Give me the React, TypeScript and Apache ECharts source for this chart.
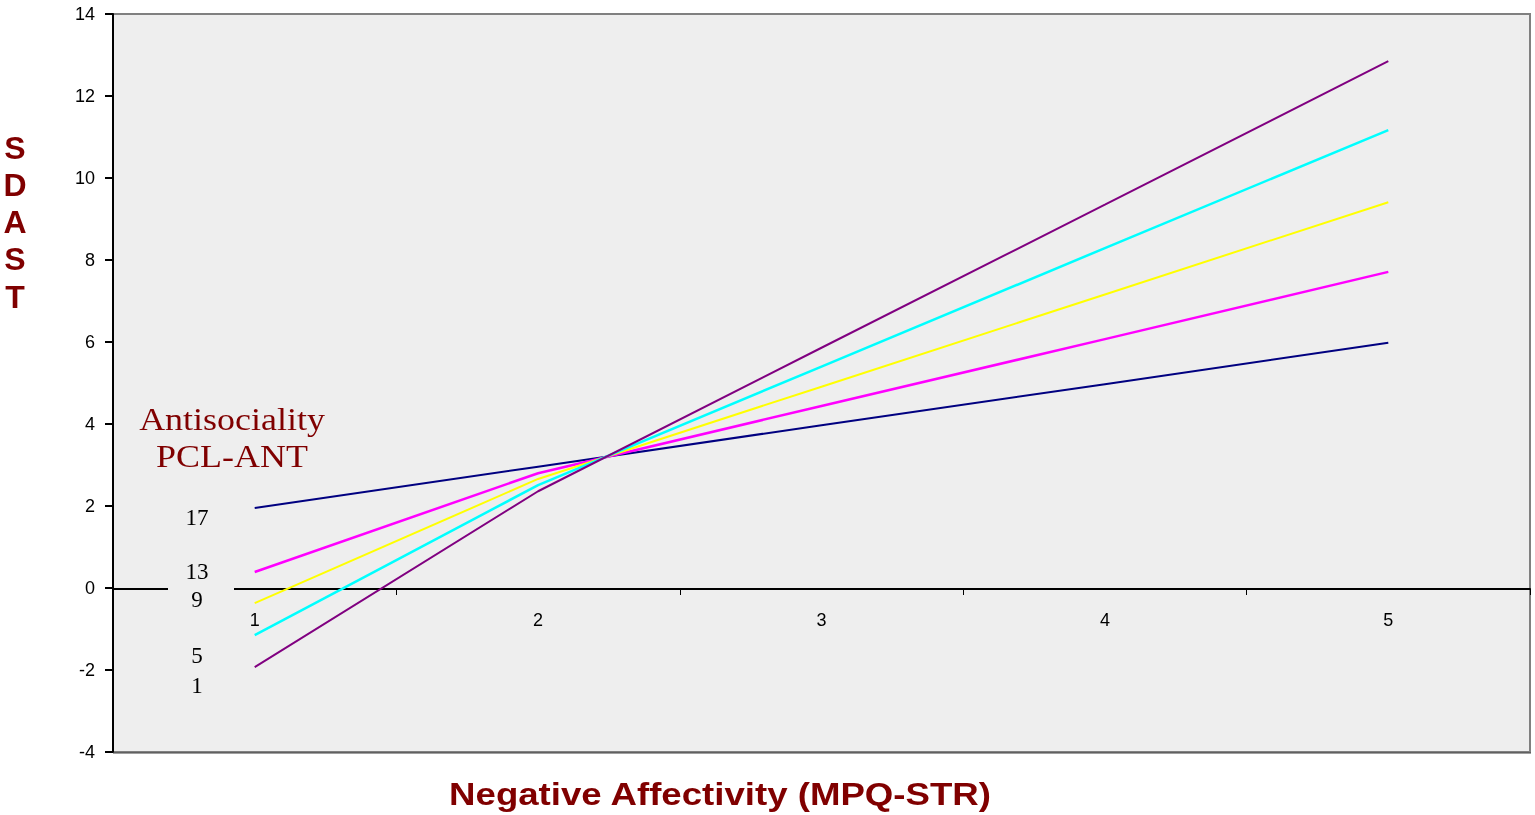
import React, { useEffect, useRef } from "react";
import * as echarts from "echarts";

const categories = ["1", "2", "3", "4", "5"];
const pcl17 = [1.95, 2.96, 3.97, 4.97, 5.98];
const pcl13 = [0.39, 2.8, 4.44, 6.07, 7.71];
const pcl9 = [-0.37, 2.66, 4.91, 7.16, 9.41];
const pcl5 = [-1.15, 2.51, 5.4, 8.29, 11.17];
const pcl1 = [-1.93, 2.36, 5.86, 9.35, 12.85];
const legendLabels = ["17", "13", "9", "5", "1"];
const yTitleLetters = ["S", "D", "A", "S", "T"];

export default function App() {
  const ref = useRef<HTMLDivElement>(null);
  useEffect(() => {
    if (!ref.current) return;
    const chart = echarts.init(ref.current, null, { renderer: "svg" });
    const dark = "#800000";
    const legendY = [517, 571, 599, 655, 685];
    const yLetterY = [148, 185, 222, 259, 297];
    chart.setOption({
      animation: false,
      grid: {
        left: 113,
        top: 14,
        right: 5,
        bottom: 63,
        show: true,
        backgroundColor: "#EEEEEE",
        borderColor: "#808080",
        borderWidth: 2,
      },
      xAxis: {
        type: "category",
        data: categories,
        boundaryGap: true,
        offset: -163,
        axisLine: { onZero: false, lineStyle: { color: "#000", width: 2 } },
        axisTick: { show: true, alignWithLabel: false, length: 6, lineStyle: { color: "#000", width: 1 } },
        axisLabel: { color: "#000", fontSize: 18, fontFamily: "Liberation Sans, Arial", margin: 22 },
        splitLine: { show: false },
        z: 1,
      },
      yAxis: {
        type: "value",
        min: -4,
        max: 14,
        interval: 2,
        axisLine: { show: true, lineStyle: { color: "#000", width: 2 } },
        axisTick: { show: true, length: 8, lineStyle: { color: "#000", width: 2 } },
        axisLabel: { color: "#000", fontSize: 18, fontFamily: "Liberation Sans, Arial", margin: 18 },
        splitLine: { show: false },
      },
      series: [
        { name: "17", type: "line", data: pcl17, symbol: "none", lineStyle: { color: "#000080", width: 2 }, z: 2 },
        { name: "13", type: "line", data: pcl13, symbol: "none", lineStyle: { color: "#FF00FF", width: 2.5 }, z: 3 },
        { name: "9", type: "line", data: pcl9, symbol: "none", lineStyle: { color: "#FFFF00", width: 2 }, z: 4 },
        { name: "5", type: "line", data: pcl5, symbol: "none", lineStyle: { color: "#00FFFF", width: 2.5 }, z: 5 },
        { name: "1", type: "line", data: pcl1, symbol: "none", lineStyle: { color: "#800080", width: 2 }, z: 6 },
      ],
      graphic: [
        { type: "rect", shape: { x: 168, y: 585, width: 66, height: 8 }, style: { fill: "#EEEEEE" }, z: 50 },
        { type: "line", shape: { x1: 113, y1: 753, x2: 1531, y2: 753 }, style: { stroke: "#404040", lineWidth: 1 }, z: 50 },
        {
          type: "text", x: 232, y: 419, scaleX: 1.16, z: 60,
          style: { text: "Antisociality", fontSize: 31, fontFamily: "Liberation Serif, Times New Roman, serif", fill: dark, align: "center", verticalAlign: "middle" },
        },
        {
          type: "text", x: 232, y: 456, scaleX: 1.16, z: 60,
          style: { text: "PCL-ANT", fontSize: 31, fontFamily: "Liberation Serif, Times New Roman, serif", fill: dark, align: "center", verticalAlign: "middle" },
        },
        ...legendLabels.map((t, i) => ({
          type: "text", x: 197, y: legendY[i], z: 60,
          style: { text: t, fontSize: 23, fontFamily: "Liberation Serif, Times New Roman, serif", fill: "#000", align: "center", verticalAlign: "middle" },
        })),
        ...yTitleLetters.map((t, i) => ({
          type: "text", x: 15, y: yLetterY[i], z: 60,
          style: { text: t, fontSize: 32, fontWeight: "bold", fontFamily: "Liberation Sans, Arial", fill: dark, align: "center", verticalAlign: "middle" },
        })),
        {
          type: "text", x: 720, y: 794, scaleX: 1.145, z: 60,
          style: { text: "Negative Affectivity (MPQ-STR)", fontSize: 32, fontWeight: "bold", fontFamily: "Liberation Sans, Arial", fill: dark, align: "center", verticalAlign: "middle" },
        },
      ],
    });
    return () => chart.dispose();
  }, []);
  return <div ref={ref} style={{ position: "fixed", left: 0, top: 0, width: 1535, height: 815 }} />;
}
